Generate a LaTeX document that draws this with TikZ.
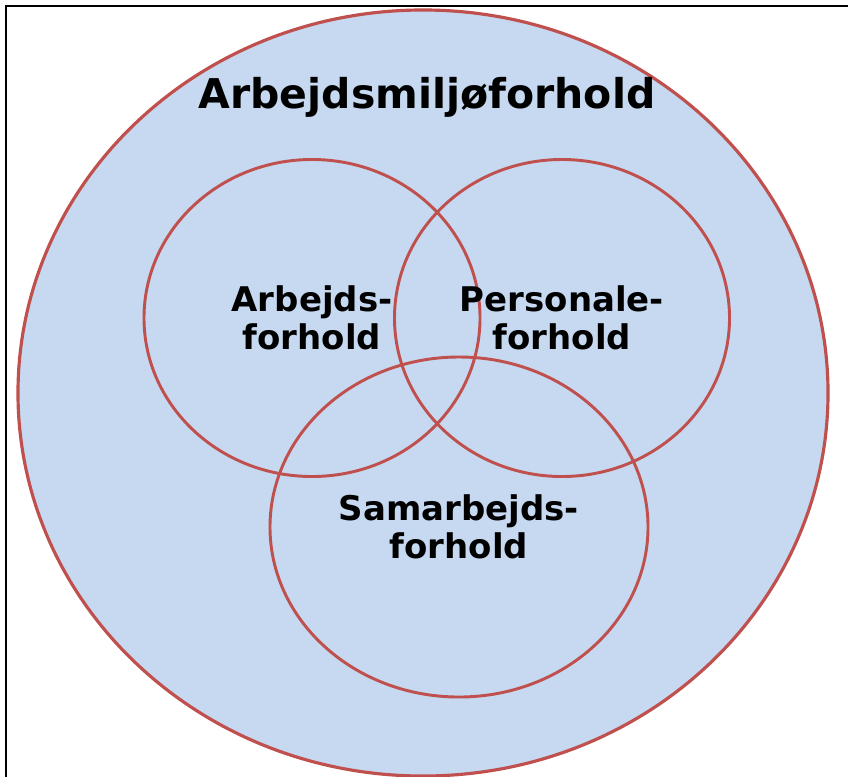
\documentclass[tikz,border=0pt]{standalone}
\usepackage{fontspec}
\setmainfont{DejaVu Sans}
\usepackage{tikz}
\usetikzlibrary{shapes.geometric}
\definecolor{areablue}{RGB}{198,217,240}
\definecolor{linered}{RGB}{192,80,77}

\begin{document}
\begin{tikzpicture}[x=0.03cm, y=-0.03cm,
        area/.style={draw=linered, fill=areablue, ellipse, line width=2.7pt, inner sep=0pt},
        field/.style={draw=linered, ellipse, line width=2.5pt, inner sep=0pt, align=center,
          font=\bfseries\fontsize{29}{32.5}\selectfont},
        heading/.style={font=\bfseries\fontsize{35}{40}\selectfont, anchor=base}
      ]
    \useasboundingbox (0,0) rectangle (848,776);

    \draw[line width=1.8pt] (6,800) -- (6,6) -- (870,6);

    \node[area, minimum width=24.3cm, minimum height=22.98cm] (env) at (423,393) {};
    \node[heading] (envtitle) at (427,108) {Arbejdsmiljøforhold};

    \node[field, minimum width=10.08cm, minimum height=9.51cm] (work) at (312,318) {Arbejds-\\forhold};
    \node[field, minimum width=10.05cm, minimum height=9.51cm] (staff) at (562,318) {Personale-\\forhold};
    \node[field, minimum width=11.34cm, minimum height=10.2cm] (coop) at (459,527) {Samarbejds-\\forhold};

    \end{tikzpicture}
\end{document}
